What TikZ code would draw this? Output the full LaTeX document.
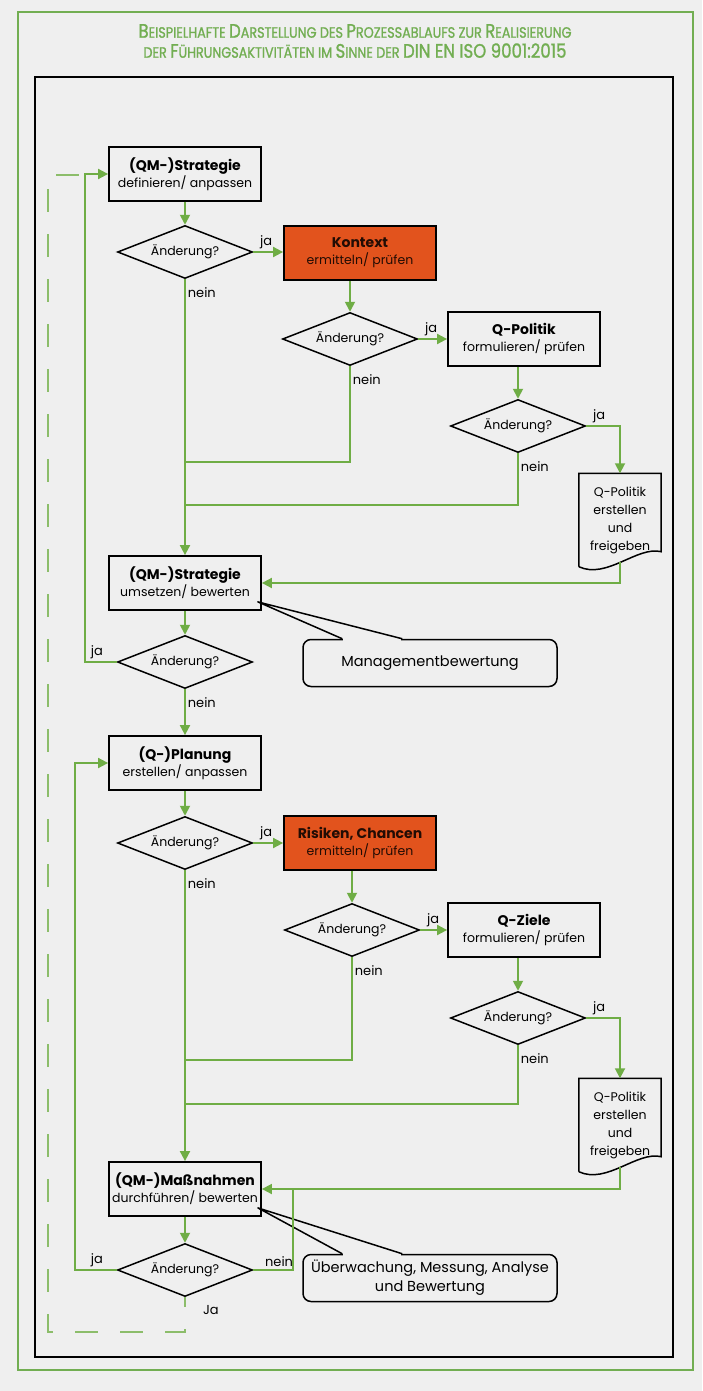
\documentclass[tikz,border=0pt]{standalone}
\usepackage{fontspec}
\setmainfont{Poppins}
\newfontfamily\titlefont[FakeStretch=0.85,FakeBold=1.2]{Poppins}
\usetikzlibrary{shapes.geometric,arrows.meta,calc,positioning}
\usepackage{xcolor}

\definecolor{bggray}{HTML}{EFEFEF}
\definecolor{qmgreen}{HTML}{6FAD45}
\definecolor{titlegreen}{HTML}{72AE52}
\definecolor{qmorange}{HTML}{E2531D}

\newcommand{\capbig}[1]{{\fontsize{19.5}{20}\selectfont #1}}
\newcommand{\capsmall}[1]{{\fontsize{15}{20}\selectfont #1}}
\newcommand{\stephead}[1]{{\fontsize{14}{17}\selectfont\bfseries #1}}

\begin{document}
\begin{tikzpicture}[x=1pt,y=-1pt,
  stepbox/.style={draw=black, line width=1.8pt, minimum width=152pt, minimum height=54pt,
    inner xsep=2pt, align=center, font=\fontsize{12.5}{17}\selectfont},
  hotbox/.style={stepbox, fill=qmorange, text=black!85!qmorange},
  decision/.style={diamond, aspect=2.55, draw=black, line width=1.5pt, minimum width=135pt,
    minimum height=53pt, inner sep=0pt, font=\fontsize{12.5}{15}\selectfont},
  docnode/.style={minimum width=82pt, minimum height=93pt, inner sep=0pt, align=center,
    font=\fontsize{12.5}{18}\selectfont},
  callout/.style={draw=black, line width=1.5pt, rounded corners=8pt, minimum width=254pt,
    minimum height=47pt, align=center, font=\fontsize{14.5}{19}\selectfont},
  flow/.style={draw=qmgreen, line width=1.8pt},
  arr/.style={flow, -{Triangle[length=10pt,width=10pt]}},
  dashline/.style={draw=qmgreen!80!white, line width=2pt, dash pattern=on 23pt off 22pt, dash phase=13pt},
  lbl/.style={font=\fontsize{13}{14}\selectfont, inner sep=1pt},
  jalbl/.style={lbl, anchor=south west, xshift=5pt, yshift=1pt},
  neinlbl/.style={lbl, anchor=north west, xshift=1pt, yshift=-6pt}]
%\draw[help lines] (0,0) grid (702,1391);

\useasboundingbox (0,0) rectangle (702,1391);
\fill[bggray] (0,0) rectangle (702,1391);
\draw[titlegreen, line width=2.5pt] (18,12) rectangle (693,1370);
\draw[black, line width=2.2pt] (35,77) rectangle (673,1357);

\node[font=\titlefont\fontsize{15}{20}\selectfont, text=titlegreen, align=center, inner sep=0pt] (title) at (355,41)
  {\capbig{B}\capsmall{EISPIELHAFTE} \capbig{D}\capsmall{ARSTELLUNG DES} \capbig{P}\capsmall{ROZESSABLAUFS ZUR} \capbig{R}\capsmall{EALISIERUNG}\\
   \capsmall{DER} \capbig{F}\capsmall{ÜHRUNGSAKTIVITÄTEN IM} \capbig{S}\capsmall{INNE DER} \capbig{DIN EN ISO 9001:2015}};

\node[stepbox] (strat1) at (185,174) {\stephead{(QM-)Strategie}\\definieren/ anpassen};
\node[decision] (chg1) at (185,252) {Änderung?};
\node[hotbox] (kontext) at (360,253) {\stephead{Kontext}\\ermitteln/ prüfen};
\node[decision] (chg2) at (350,339) {Änderung?};
\node[stepbox] (qpol) at (524,339) {\stephead{Q-Politik}\\formulieren/ prüfen};
\node[decision] (chg3) at (518,426) {Änderung?};
\node[docnode] (qpdoc1) at (620,520) {Q-Politik\\erstellen\\und\\freigeben};
\node[stepbox] (strat2) at (185,583) {\stephead{(QM-)Strategie}\\umsetzen/ bewerten};
\node[decision] (chg4) at (185,662) {Änderung?};
\node[callout] (mgmt) at (430,663) {Managementbewertung};

\node[stepbox] (plan) at (185,763) {\stephead{(Q-)Planung}\\erstellen/ anpassen};
\node[decision] (chg5) at (185,843) {Änderung?};
\node[hotbox] (risk) at (360,843) {\stephead{Risiken, Chancen}\\ermitteln/ prüfen};
\node[decision] (chg6) at (352,930) {Änderung?};
\node[stepbox] (qziel) at (524,930) {\stephead{Q-Ziele}\\formulieren/ prüfen};
\node[decision] (chg7) at (518,1018) {Änderung?};
\node[docnode] (qpdoc2) at (620,1125) {Q-Politik\\erstellen\\und\\freigeben};
\node[stepbox] (mass) at (185,1189) {\stephead{(QM-)Maßnahmen}\\durchführen/ bewerten};
\node[decision] (chg8) at (185,1270) {Änderung?};
\node[callout] (umab) at (430,1278) {Überwachung, Messung, Analyse\\und Bewertung};

% document borders
\foreach \d in {qpdoc1,qpdoc2}
  \draw[line width=1.5pt] (\d.south west) -- (\d.north west) -- (\d.north east)
    -- ([yshift=15pt]\d.south east) .. controls +(-24,-6) and +(28,13) .. (\d.south west);

% callout pointers
\foreach \c/\b in {mgmt/strat2,umab/mass} {
  \fill[bggray] ($(\c.north west)+(41,-2.5)$) rectangle ($(\c.north west)+(99,2.5)$);
  \draw[line width=1.5pt, line join=round] ($(\c.north west)+(40,0)$)
    -- ([xshift=-4pt,yshift=9pt]\b.south east) -- ($(\c.north west)+(100,0)$);
}

\coordinate (join1) at (185,462);
\coordinate (join2) at (185,505);
\coordinate (join3) at (185,1060);
\coordinate (join4) at (185,1104);
\coordinate (join5) at (293,1189);
\coordinate (back1) at (85,662);
\coordinate (back2) at (75,1270);
\coordinate (dash1) at (185,1332);
\coordinate (dash2) at (48,1332);
\coordinate (dash3) at (48,175);
\coordinate (dash4) at (82,175);

\draw[arr] (strat1) -- (chg1);
\draw[arr] (chg1.east) node[jalbl] {ja} -- (chg1.east -| kontext.west);
\draw[arr] (chg1.south) node[neinlbl] {nein} -- (strat2.north);
\draw[arr] (chg2.north |- kontext.south) -- (chg2.north);
\draw[arr] (chg2.east) node[jalbl] {ja} -- (chg2.east -| qpol.west);
\draw[flow] (chg2.south) node[neinlbl] {nein} |- (join1);
\draw[arr] (chg3.north |- qpol.south) -- (chg3.north);
\draw[arr] (chg3.east) node[jalbl] {ja} -| (qpdoc1.north);
\draw[flow] (chg3.south) node[neinlbl] {nein} |- (join2);
\draw[arr] ([yshift=5pt]qpdoc1.south) |- (strat2.east);
\draw[arr] (strat2) -- (chg4);
\draw[arr] (chg4.west) node[lbl, anchor=south east, xshift=-12pt, yshift=1pt] {ja} -- (back1) |- (strat1.west);
\draw[arr] (chg4.south) node[neinlbl] {nein} -- (plan.north);

\draw[arr] (plan) -- (chg5);
\draw[arr] (chg5.east) node[jalbl] {ja} -- (chg5.east -| risk.west);
\draw[arr] (chg5.south) node[neinlbl] {nein} -- (mass.north);
\draw[arr] (chg6.north |- risk.south) -- (chg6.north);
\draw[arr] (chg6.east) node[jalbl] {ja} -- (chg6.east -| qziel.west);
\draw[flow] (chg6.south) node[neinlbl] {nein} |- (join3);
\draw[arr] (chg7.north |- qziel.south) -- (chg7.north);
\draw[arr] (chg7.east) node[jalbl] {ja} -| (qpdoc2.north);
\draw[flow] (chg7.south) node[neinlbl] {nein} |- (join4);
\draw[arr] ([yshift=5pt]qpdoc2.south) |- (mass.east);
\draw[arr] (mass) -- (chg8);
\draw[arr] (chg8.west) node[lbl, anchor=south east, xshift=-12pt, yshift=1pt] {ja} -- (back2) |- (plan.west);
\draw[flow] (chg8.east) node[lbl, anchor=south west, xshift=10pt, yshift=1pt] {nein} -| (join5);
\draw[dashline] (chg8.south) node[lbl, anchor=north west, xshift=16pt, yshift=-6pt] {Ja}
  -- (dash1) -- (dash2) -- (dash3) -- (dash4);
\end{tikzpicture}
\end{document}
